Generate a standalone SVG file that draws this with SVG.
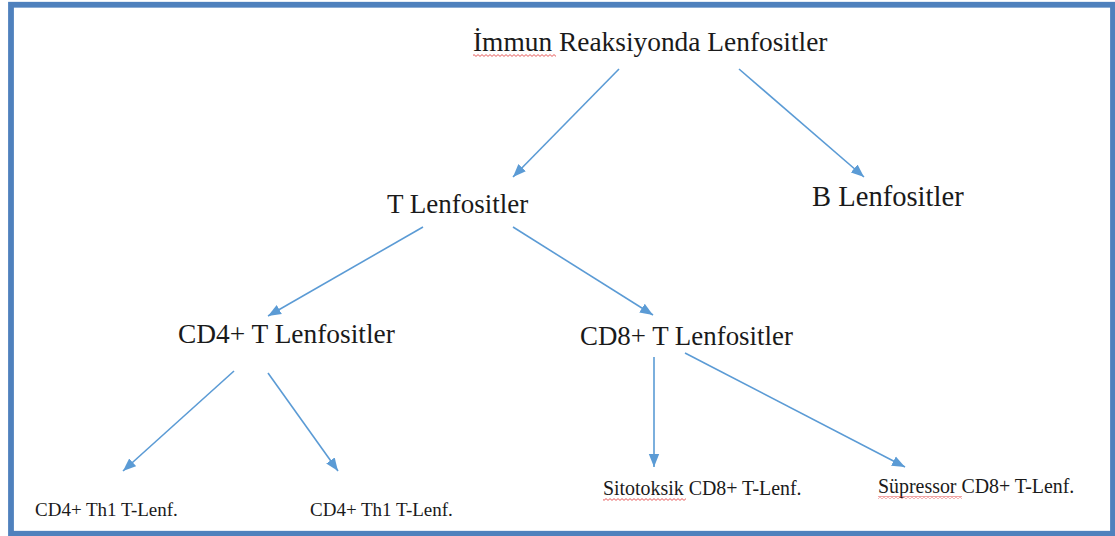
<svg xmlns="http://www.w3.org/2000/svg" width="1115" height="536" viewBox="0 0 1115 536">
  <style>
    text { font-family: 'Liberation Serif', 'Times New Roman', Tinos, 'DejaVu Serif', serif; fill: #1a1a1a; }
    .conn { stroke: #5B9BD5; stroke-width: 1.6; fill: none; marker-end: url(#arrow); }
  </style>
  <defs>
    <marker id="arrow" markerUnits="userSpaceOnUse" markerWidth="14" markerHeight="12" viewBox="0 0 14 12" refX="13" refY="6" orient="auto">
      <path d="M0,0.8 L13,6 L0,11.2 Z" fill="#5B9BD5"/>
    </marker>
    <pattern id="wave" patternUnits="userSpaceOnUse" width="4" height="3">
      <path d="M0 2.4 L2 0.6 L4 2.4" stroke="#E03030" stroke-width="0.8" fill="none"/>
    </pattern>
  </defs>
  <rect x="0" y="0" width="1115" height="536" fill="#ffffff"/>
  <rect id="frame" x="11" y="4.75" width="1102" height="529" fill="none" stroke="#4F81BD" stroke-width="5.8"/>

  <g id="connectors">
    <line class="conn" x1="619" y1="69" x2="513" y2="177"/>
    <line class="conn" x1="739" y1="69" x2="864" y2="177"/>
    <line class="conn" x1="423" y1="227" x2="268" y2="316"/>
    <line class="conn" x1="513" y1="227" x2="653" y2="315"/>
    <line class="conn" x1="234" y1="371" x2="123" y2="471"/>
    <line class="conn" x1="268" y1="373" x2="338" y2="471"/>
    <line class="conn" x1="654" y1="357" x2="654" y2="467"/>
    <line class="conn" x1="685" y1="353" x2="905" y2="467"/>
  </g>

  <g id="node-root">
    <text x="473" y="51" font-size="27.4" font-family="Liberation Serif, serif">İmmun Reaksiyonda Lenfositler</text>
    <rect x="473" y="54" width="83" height="3" fill="url(#wave)"/>
  </g>
  <g id="node-t">
    <text x="387" y="213" font-size="27">T Lenfositler</text>
  </g>
  <g id="node-b">
    <text x="812" y="206" font-size="28.6">B Lenfositler</text>
  </g>
  <g id="node-cd4">
    <text x="178" y="343" font-size="27.4">CD4+ T Lenfositler</text>
  </g>
  <g id="node-cd8">
    <text x="580" y="345" font-size="26.9">CD8+ T Lenfositler</text>
  </g>
  <g id="node-th1a">
    <text x="35" y="516" font-size="19">CD4+ Th1 T-Lenf.</text>
  </g>
  <g id="node-th1b">
    <text x="310" y="516" font-size="19">CD4+ Th1 T-Lenf.</text>
  </g>
  <g id="node-sito">
    <text x="603" y="495" font-size="19.9">Sitotoksik CD8+ T-Lenf.</text>
    <rect x="603" y="498" width="83" height="3" fill="url(#wave)"/>
  </g>
  <g id="node-supp">
    <text x="878" y="493" font-size="19.9">Süpressor CD8+ T-Lenf.</text>
    <rect x="878" y="496" width="84" height="3" fill="url(#wave)"/>
  </g>
</svg>
